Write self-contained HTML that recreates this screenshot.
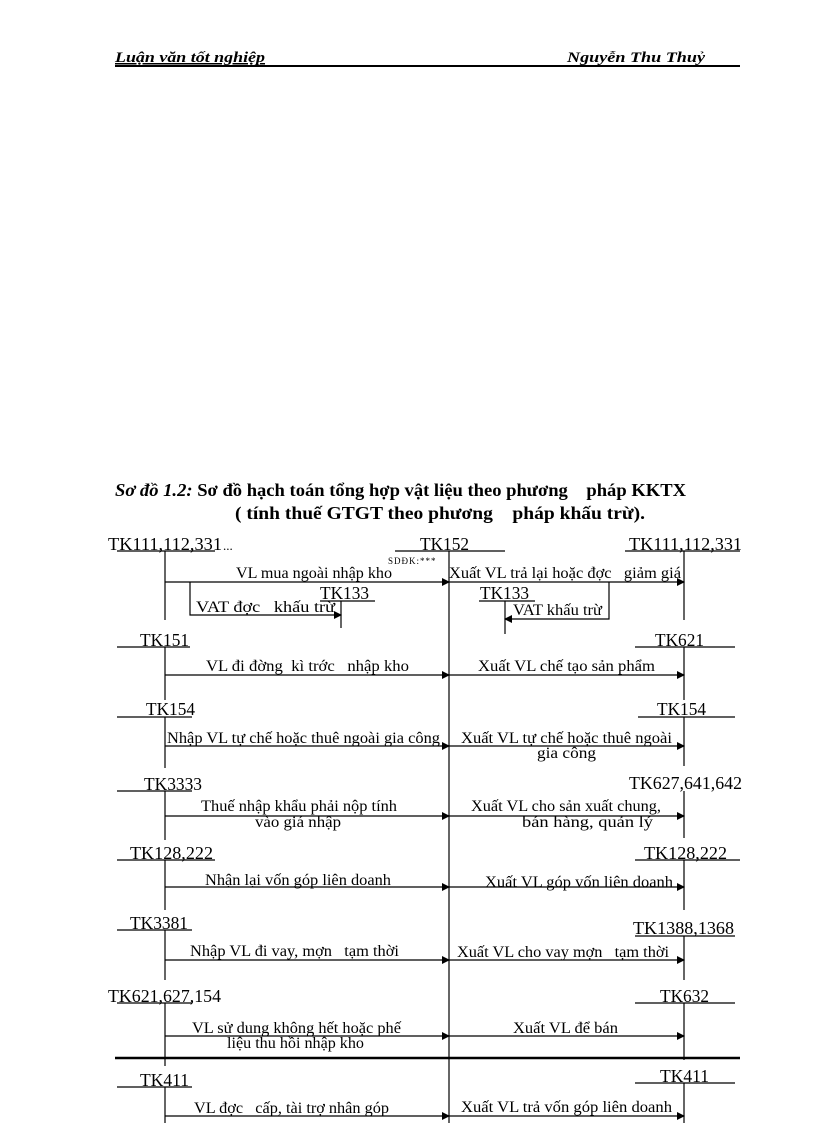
<!DOCTYPE html>
<html><head><meta charset="utf-8"><style>
html,body{margin:0;padding:0;background:#fff;}
svg{display:block}
text{font-family:"Liberation Serif",serif;fill:#000;white-space:pre}
.tk{font-size:18px}
.d{font-size:15.5px}
</style></head><body>
<svg width="816" height="1123" viewBox="0 0 816 1123" xmlns="http://www.w3.org/2000/svg" xml:space="preserve">
<defs><marker id="a" markerWidth="8" markerHeight="8" refX="7" refY="4" orient="auto" markerUnits="userSpaceOnUse"><path d="M0,0 L8,4 L0,8 z" fill="#000"/></marker></defs>
<text x="115" y="62" font-size="15" font-style="italic" font-weight="bold" text-decoration="underline" textLength="150" lengthAdjust="spacingAndGlyphs">Luận văn tốt nghiệp</text>
<text x="567" y="62" font-size="15" font-style="italic" font-weight="bold" textLength="138" lengthAdjust="spacingAndGlyphs">Nguyễn Thu Thuỷ</text>
<line x1="115" y1="66" x2="740" y2="66" stroke="#000" stroke-width="2"/>
<text x="115" y="496" font-size="18" font-weight="bold" textLength="571" lengthAdjust="spacingAndGlyphs"><tspan font-style="italic">Sơ đồ 1.2:</tspan> Sơ đồ hạch toán tổng hợp vật liệu theo phương    pháp KKTX</text>
<text x="235" y="519" font-size="18" font-weight="bold" textLength="410" lengthAdjust="spacingAndGlyphs">( tính thuế GTGT theo phương    pháp khấu trừ).</text>

<g stroke="#000" stroke-width="1.2" fill="none">
<line x1="395" y1="551" x2="505" y2="551"/>
<line x1="449" y1="551" x2="449" y2="1123"/>
<line x1="117" y1="551" x2="215" y2="551"/>
<line x1="165" y1="551" x2="165" y2="620"/>
<line x1="625" y1="551" x2="740" y2="551"/>
<line x1="684" y1="551" x2="684" y2="620"/>
<line x1="165" y1="582" x2="449" y2="582" marker-end="url(#a)"/>
<line x1="449" y1="582" x2="684" y2="582" marker-end="url(#a)"/>
<line x1="320" y1="601" x2="375" y2="601"/>
<line x1="341" y1="601" x2="341" y2="628"/>
<polyline points="190,582 190,615 341,615" marker-end="url(#a)"/>
<line x1="479" y1="601" x2="535" y2="601"/>
<line x1="505" y1="601" x2="505" y2="634"/>
<polyline points="609,582 609,619 505,619" marker-end="url(#a)"/>
<line x1="117" y1="647" x2="190" y2="647"/>
<line x1="165" y1="647" x2="165" y2="700"/>
<line x1="635" y1="647" x2="735" y2="647"/>
<line x1="684" y1="647" x2="684" y2="700"/>
<line x1="165" y1="675" x2="449" y2="675" marker-end="url(#a)"/>
<line x1="449" y1="675" x2="684" y2="675" marker-end="url(#a)"/>
<line x1="117" y1="717" x2="192" y2="717"/>
<line x1="165" y1="717" x2="165" y2="768"/>
<line x1="638" y1="717" x2="735" y2="717"/>
<line x1="684" y1="717" x2="684" y2="766"/>
<line x1="165" y1="746" x2="449" y2="746" marker-end="url(#a)"/>
<line x1="449" y1="746" x2="684" y2="746" marker-end="url(#a)"/>
<line x1="117" y1="791" x2="192" y2="791"/>
<line x1="165" y1="791" x2="165" y2="840"/>
<line x1="684" y1="791" x2="684" y2="838"/>
<line x1="165" y1="816" x2="449" y2="816" marker-end="url(#a)"/>
<line x1="449" y1="816" x2="684" y2="816" marker-end="url(#a)"/>
<line x1="117" y1="860" x2="215" y2="860"/>
<line x1="165" y1="860" x2="165" y2="910"/>
<line x1="635" y1="860" x2="740" y2="860"/>
<line x1="684" y1="860" x2="684" y2="910"/>
<line x1="165" y1="887" x2="449" y2="887" marker-end="url(#a)"/>
<line x1="449" y1="887" x2="684" y2="887" marker-end="url(#a)"/>
<line x1="117" y1="930" x2="192" y2="930"/>
<line x1="165" y1="930" x2="165" y2="980"/>
<line x1="635" y1="936" x2="735" y2="936"/>
<line x1="684" y1="936" x2="684" y2="980"/>
<line x1="165" y1="960" x2="449" y2="960" marker-end="url(#a)"/>
<line x1="449" y1="960" x2="684" y2="960" marker-end="url(#a)"/>
<line x1="117" y1="1003" x2="192" y2="1003"/>
<line x1="165" y1="1003" x2="165" y2="1066"/>
<line x1="635" y1="1003" x2="735" y2="1003"/>
<line x1="684" y1="1003" x2="684" y2="1060"/>
<line x1="165" y1="1036" x2="449" y2="1036" marker-end="url(#a)"/>
<line x1="449" y1="1036" x2="684" y2="1036" marker-end="url(#a)"/>
<line x1="117" y1="1087" x2="192" y2="1087"/>
<line x1="165" y1="1087" x2="165" y2="1123"/>
<line x1="635" y1="1083" x2="735" y2="1083"/>
<line x1="684" y1="1083" x2="684" y2="1123"/>
<line x1="165" y1="1116" x2="449" y2="1116" marker-end="url(#a)"/>
<line x1="449" y1="1116" x2="684" y2="1116" marker-end="url(#a)"/>
</g>
<line x1="115" y1="1058" x2="740" y2="1058" stroke="#000" stroke-width="2.5"/>

<text class="tk" x="108" y="550" textLength="114" lengthAdjust="spacingAndGlyphs">TK111,112,331</text><text x="223" y="550" font-size="13">...</text>
<text class="tk" x="420" y="550" textLength="49" lengthAdjust="spacingAndGlyphs">TK152</text>
<text class="tk" x="629" y="550" textLength="113" lengthAdjust="spacingAndGlyphs">TK111,112,331</text>
<text x="388" y="564" font-size="9" font-family="Liberation Mono,monospace" letter-spacing="1">SDĐK:***</text>
<text class="d" x="236" y="578" textLength="156" lengthAdjust="spacingAndGlyphs">VL mua ngoài nhập kho</text>
<text class="d" x="449" y="578" textLength="232" lengthAdjust="spacingAndGlyphs">Xuất VL trả lại hoặc đợc   giảm giá</text>
<text class="tk" x="320" y="599" textLength="49" lengthAdjust="spacingAndGlyphs">TK133</text>
<text class="tk" x="480" y="599" textLength="49" lengthAdjust="spacingAndGlyphs">TK133</text>
<text class="d" x="196" y="612" textLength="139" lengthAdjust="spacingAndGlyphs">VAT đợc   khấu trừ</text>
<text class="d" x="513" y="615" textLength="89" lengthAdjust="spacingAndGlyphs">VAT khấu trừ</text>

<text class="tk" x="140" y="646" textLength="49" lengthAdjust="spacingAndGlyphs">TK151</text>
<text class="tk" x="655" y="646" textLength="49" lengthAdjust="spacingAndGlyphs">TK621</text>
<text class="d" x="206" y="671" textLength="203" lengthAdjust="spacingAndGlyphs">VL đi đờng  kì trớc   nhập kho</text>
<text class="d" x="478" y="671" textLength="177" lengthAdjust="spacingAndGlyphs">Xuất VL chế tạo sản phẩm</text>

<text class="tk" x="146" y="715" textLength="49" lengthAdjust="spacingAndGlyphs">TK154</text>
<text class="tk" x="657" y="715" textLength="49" lengthAdjust="spacingAndGlyphs">TK154</text>
<text class="d" x="167" y="743" textLength="273" lengthAdjust="spacingAndGlyphs">Nhập VL tự chế hoặc thuê ngoài gia công</text>
<text class="d" x="461" y="743" textLength="211" lengthAdjust="spacingAndGlyphs">Xuất VL tự chế hoặc thuê ngoài</text>
<text class="d" x="537" y="758" textLength="59" lengthAdjust="spacingAndGlyphs">gia công</text>

<text class="tk" x="144" y="790" textLength="58" lengthAdjust="spacingAndGlyphs">TK3333</text>
<text class="tk" x="629" y="789" textLength="113" lengthAdjust="spacingAndGlyphs">TK627,641,642</text>
<text class="d" x="201" y="811" textLength="196" lengthAdjust="spacingAndGlyphs">Thuế nhập khẩu phải nộp tính</text>
<text class="d" x="255" y="827" textLength="86" lengthAdjust="spacingAndGlyphs">vào giá nhập</text>
<text class="d" x="471" y="811" textLength="190" lengthAdjust="spacingAndGlyphs">Xuất VL cho sản xuất chung,</text>
<text class="d" x="522" y="827" textLength="131" lengthAdjust="spacingAndGlyphs">bán hàng, quản lý</text>

<text class="tk" x="130" y="859" textLength="83" lengthAdjust="spacingAndGlyphs">TK128,222</text>
<text class="tk" x="644" y="859" textLength="83" lengthAdjust="spacingAndGlyphs">TK128,222</text>
<text class="d" x="205" y="885" textLength="186" lengthAdjust="spacingAndGlyphs">Nhận lại vốn góp liên doanh</text>
<text class="d" x="485" y="887" textLength="188" lengthAdjust="spacingAndGlyphs">Xuất VL góp vốn liên doanh</text>

<text class="tk" x="130" y="929" textLength="58" lengthAdjust="spacingAndGlyphs">TK3381</text>
<text class="tk" x="633" y="934" textLength="101" lengthAdjust="spacingAndGlyphs">TK1388,1368</text>
<text class="d" x="190" y="956" textLength="209" lengthAdjust="spacingAndGlyphs">Nhập VL đi vay, mợn   tạm thời</text>
<text class="d" x="457" y="957" textLength="212" lengthAdjust="spacingAndGlyphs">Xuất VL cho vay mợn   tạm thời</text>

<text class="tk" x="108" y="1002" textLength="113" lengthAdjust="spacingAndGlyphs">TK621,627,154</text>
<text class="tk" x="660" y="1002" textLength="49" lengthAdjust="spacingAndGlyphs">TK632</text>
<text class="d" x="192" y="1033" textLength="209" lengthAdjust="spacingAndGlyphs">VL sử dung không hết hoặc phế</text>
<text class="d" x="227" y="1048" textLength="137" lengthAdjust="spacingAndGlyphs">liệu thu hồi nhập kho</text>
<text class="d" x="513" y="1033" textLength="105" lengthAdjust="spacingAndGlyphs">Xuất VL để bán</text>

<text class="tk" x="140" y="1086" textLength="49" lengthAdjust="spacingAndGlyphs">TK411</text>
<text class="tk" x="660" y="1082" textLength="49" lengthAdjust="spacingAndGlyphs">TK411</text>
<text class="d" x="194" y="1113" textLength="195" lengthAdjust="spacingAndGlyphs">VL đợc   cấp, tài trợ nhân góp</text>
<text class="d" x="461" y="1112" textLength="211" lengthAdjust="spacingAndGlyphs">Xuất VL trả vốn góp liên doanh</text>
</svg>
</body></html>
